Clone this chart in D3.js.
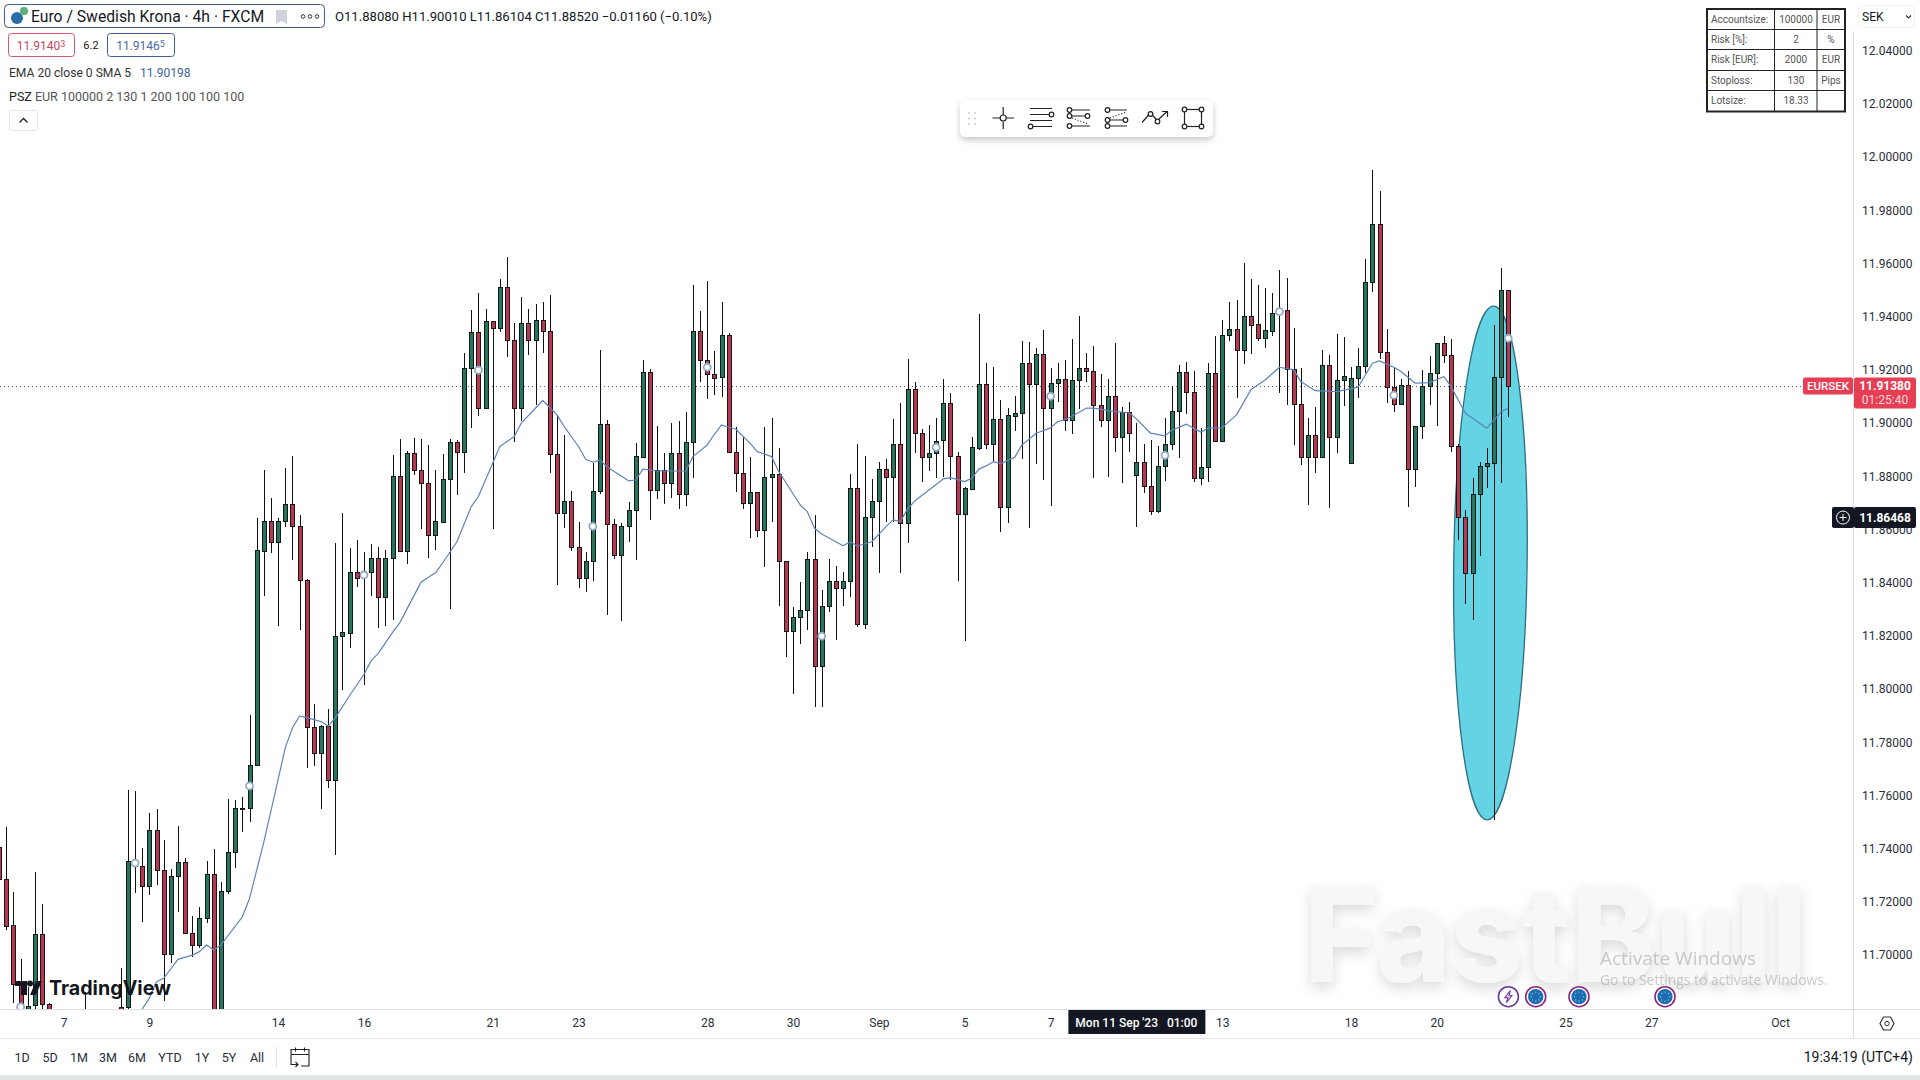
<!DOCTYPE html>
<html><head><meta charset="utf-8"><title>EURSEK 4h</title>
<script src="https://cdn.jsdelivr.net/npm/d3@7/dist/d3.min.js"></script>
<style>
html,body{margin:0;padding:0;background:#fff;overflow:hidden}
svg{display:block}
text{font-family:Roboto,sans-serif;fill:#131722}
</style></head><body><svg id="c" width="1920" height="1080"></svg>
<script>
const highs=[11.7452,11.7482,11.7238,11.6985,11.6880,11.7314,11.7192,11.6821,
11.6770,11.6700,11.6680,11.6670,11.6862,11.6750,11.6710,11.6720,11.6770,
11.6950,11.7621,11.7617,11.7402,11.7533,11.7548,11.7433,11.7323,11.7485,11.7364,11.7147,11.7182,11.7355,11.7399,11.7276,11.7587,11.7583,11.7594,11.7904,11.8644,11.8825,11.8720,11.8645,11.8832,11.8875,11.8655,11.8415,11.7943,11.7865,11.7925,11.8551,11.8662,11.8530,11.8559,11.8516,11.8544,11.8534,11.8523,11.8880,11.8941,11.8894,11.8944,11.8941,11.8918,11.8825,11.8884,11.8939,11.8937,11.9263,11.9426,11.9488,11.9429,11.9384,11.9541,11.9624,11.9376,11.9473,11.9428,11.9447,11.9455,11.9482,11.9031,11.8956,11.8745,11.8630,11.8515,11.8851,11.9275,11.9012,11.8639,11.8624,11.8703,11.8927,11.9238,11.9203,11.8989,11.8887,11.9001,11.9007,11.9041,11.9520,11.9421,11.9534,11.9271,11.9456,11.9340,11.8987,11.8947,11.8872,11.8741,11.8987,11.9018,11.8906,11.8483,11.8310,11.8402,11.8515,11.8655,11.8373,11.8488,11.8463,11.8439,11.8808,11.8921,11.8877,11.8790,11.8853,11.8864,11.9016,11.9075,11.9240,11.9155,11.8977,11.8993,11.9018,11.9166,11.9112,11.8891,11.8761,11.8947,11.9411,11.9227,11.9212,11.9085,11.9056,11.9102,11.9309,11.9304,11.9282,11.9350,11.9206,11.9227,11.9238,11.9317,11.9403,11.9263,11.9288,11.9184,11.9166,11.9303,11.9062,11.9081,11.9000,11.8921,11.8937,11.8914,11.9018,11.9141,11.9219,11.9231,11.9197,11.8981,11.9225,11.9328,11.9388,11.9455,11.9463,11.9602,11.9542,11.9520,11.9507,11.9490,11.9576,11.9547,11.9357,11.9206,11.9018,11.9060,11.9273,11.9256,11.9335,11.9323,11.9210,11.9282,11.9617,11.9952,11.9873,11.9353,11.9206,11.9166,11.9196,11.8989,11.9200,11.9253,11.9303,11.9328,11.9317,11.8922,11.8674,11.8793,11.8855,11.8906,11.9369,11.9582,11.9501];
const opens=[11.7406,11.7286,11.7113,11.6891,11.6718,11.6812,11.7078,11.6815,
11.6720,11.6650,11.6620,11.6600,11.6640,11.6700,11.6660,11.6650,11.6690,
11.6805,11.6804,11.7358,11.7334,11.7261,11.7469,11.7319,11.7003,11.7296,11.7349,11.7082,11.7037,11.7138,11.7304,11.6718,11.7240,11.7389,11.7549,11.7552,11.7713,11.8521,11.8631,11.8554,11.8631,11.8694,11.8612,11.8409,11.7857,11.7761,11.7861,11.7660,11.8198,11.8212,11.8439,11.8422,11.8439,11.8494,11.8346,11.8492,11.8803,11.8521,11.8887,11.8822,11.8775,11.8580,11.8630,11.8788,11.8928,11.8891,11.9206,11.9342,11.9056,11.9383,11.9357,11.9511,11.9312,11.9056,11.9376,11.9312,11.9387,11.9346,11.8883,11.8661,11.8706,11.8533,11.8417,11.8481,11.8744,11.8996,11.8620,11.8503,11.8612,11.8672,11.8874,11.9191,11.8748,11.8823,11.8774,11.8887,11.8733,11.8928,11.9346,11.9236,11.9184,11.9173,11.9330,11.8891,11.8812,11.8699,11.8740,11.8597,11.8797,11.8808,11.8481,11.8218,11.8270,11.8296,11.8488,11.8086,11.8312,11.8406,11.8381,11.8406,11.8755,11.8244,11.8646,11.8706,11.8827,11.8797,11.8921,11.8624,11.9127,11.8962,11.8872,11.8887,11.8936,11.9075,11.8876,11.8657,11.8753,11.8908,11.9146,11.8921,11.9015,11.8684,11.9028,11.9037,11.9225,11.9146,11.9259,11.9056,11.9150,11.9165,11.9011,11.9161,11.9206,11.9195,11.9067,11.9011,11.9101,11.8949,11.9041,11.8806,11.8853,11.8765,11.8671,11.8838,11.8921,11.9045,11.9191,11.9116,11.8793,11.8834,11.9188,11.8932,11.9330,11.9353,11.9273,11.9402,11.9372,11.9321,11.9348,11.9414,11.9426,11.9203,11.9073,11.8874,11.8954,11.8872,11.9218,11.8947,11.9161,11.8849,11.9169,11.9214,11.9530,11.9748,11.9267,11.9135,11.9071,11.9142,11.8827,11.8988,11.9139,11.9188,11.9300,11.9255,11.8913,11.8646,11.8436,11.8733,11.8838,11.8849,11.9173,11.9500];
const closes=[11.7286,11.7109,11.6890,11.6812,11.6810,11.7078,11.6816,11.6718,
11.6650,11.6620,11.6600,11.6640,11.6700,11.6660,11.6650,11.6690,11.6730,
11.6737,11.7353,11.7335,11.7261,11.7469,11.7319,11.7003,11.7296,11.7349,11.7082,11.7037,11.7138,11.7304,11.6718,11.7240,11.7389,11.7552,11.7553,11.7713,11.8523,11.8631,11.8554,11.8631,11.8694,11.8612,11.8409,11.7857,11.7761,11.7861,11.7660,11.8199,11.8213,11.8439,11.8416,11.8437,11.8494,11.8346,11.8491,11.8803,11.8521,11.8887,11.8822,11.8775,11.8580,11.8631,11.8789,11.8928,11.8891,11.9206,11.9342,11.9056,11.9383,11.9357,11.9511,11.9312,11.9056,11.9376,11.9312,11.9387,11.9346,11.8883,11.8661,11.8706,11.8533,11.8417,11.8481,11.8744,11.8996,11.8620,11.8503,11.8612,11.8672,11.8876,11.9191,11.8748,11.8823,11.8774,11.8887,11.8733,11.8928,11.9346,11.9236,11.9184,11.9171,11.9330,11.8891,11.8812,11.8699,11.8740,11.8597,11.8797,11.8808,11.8481,11.8218,11.8270,11.8296,11.8488,11.8086,11.8312,11.8406,11.8381,11.8406,11.8755,11.8244,11.8646,11.8706,11.8827,11.8797,11.8921,11.8624,11.9127,11.8962,11.8872,11.8887,11.8934,11.9075,11.8876,11.8657,11.8755,11.8909,11.9146,11.8921,11.9015,11.8684,11.9030,11.9037,11.9225,11.9146,11.9259,11.9056,11.9150,11.9165,11.9011,11.9161,11.9206,11.9195,11.9067,11.9011,11.9101,11.8949,11.9041,11.8964,11.8853,11.8765,11.8671,11.8838,11.8921,11.9045,11.9191,11.9116,11.8793,11.8834,11.9188,11.8932,11.9330,11.9353,11.9273,11.9402,11.9370,11.9321,11.9349,11.9413,11.9429,11.9203,11.9073,11.8874,11.8954,11.8872,11.9218,11.8947,11.9161,11.9176,11.9169,11.9214,11.9530,11.9748,11.9267,11.9135,11.9071,11.9142,11.8827,11.8988,11.9139,11.9188,11.9300,11.9255,11.8913,11.8646,11.8436,11.8733,11.8838,11.8849,11.9173,11.9500,11.9138];
const lows=[11.7207,11.7094,11.6821,11.6786,11.6681,11.6786,11.6786,11.6681,
11.6620,11.6590,11.6560,11.6570,11.6600,11.6630,11.6600,11.6610,11.6650,
11.6700,11.6786,11.7234,11.7126,11.7226,11.7264,11.6829,11.6971,11.7163,11.7079,11.6994,11.7026,11.7120,11.6662,11.6681,
11.7229,11.7326,11.7461,11.7501,11.7711,11.8350,11.8512,11.8238,11.8610,11.8487,11.8221,11.7705,11.7710,11.7549,11.7628,11.7376,11.7995,11.8156,11.8382,11.8016,11.8350,11.8228,11.8239,11.8261,11.8519,11.8472,11.8806,11.8602,11.8494,11.8523,11.8629,11.8300,11.8730,11.8812,11.8983,11.9028,11.9055,11.8601,11.9344,11.9248,11.8928,11.9009,11.9256,11.9068,11.9263,11.8812,11.8392,11.8607,11.8521,11.8381,11.8366,11.8408,11.8734,11.8279,11.8489,11.8256,11.8552,11.8486,11.8869,11.8636,11.8714,11.8696,11.8720,11.8677,11.8689,11.8793,11.9154,11.9092,11.9106,11.9098,11.8890,11.8742,11.8677,11.8569,11.8572,11.8460,11.8630,11.8314,11.8120,11.7982,11.8170,11.8222,11.7932,11.7934,11.8291,11.8185,11.8314,11.8345,11.8235,11.8225,11.8533,11.8436,11.8630,11.8630,11.8436,11.8548,11.8888,11.8780,11.8821,11.8793,11.8799,11.8786,11.8407,11.8182,11.8752,11.8897,11.8903,11.8855,11.8592,11.8626,11.8972,11.8865,11.8607,11.8847,11.8786,11.8689,11.9081,11.8972,11.8959,11.9053,11.9154,11.8793,11.8987,11.8797,11.8893,11.8774,11.8893,11.8611,11.8739,11.8656,11.8663,11.8784,11.8899,11.8870,11.9033,11.8778,11.8769,11.8780,11.8931,11.8931,11.9309,11.9094,11.9223,11.9259,11.9310,11.9284,11.9329,11.9112,11.9068,11.8918,11.8843,11.8692,11.8814,11.8871,11.8682,11.8889,11.9065,11.8848,11.9096,11.9188,11.9494,11.9242,11.9075,11.9043,11.9070,11.8686,11.8761,11.8939,11.9068,11.8989,11.9225,11.8893,11.8561,11.8320,11.8260,11.8502,11.8755,11.7508,11.8776,11.9022];

const emaBars=[20,21,22,23,25,27,28,29,30,31,34,35,37,38,40,41,42,43,45,46,47,49,51,52,53,55,56,59,61,62,64,66,67,69,70,72,73,76,78,79,81,82,83,84,85,88,89,90,92,96,97,99,100,101,103,105,106,108,109,112,113,114,115,118,119,120,122,124,125,126,127,128,132,133,135,136,137,138,139,140,142,143,145,147,148,149,152,153,156,158,159,161,163,164,166,168,169,171,173,175,177,179,181,182,184,187,190,192,193,195,196,198,200,202,203,205,208,210,211];
const emaValues=[11.6797,11.6838,11.6900,11.6913,11.6984,11.7000,11.7013,11.7038,11.7019,11.7038,11.7144,11.7213,11.7425,11.7542,11.7779,11.7854,11.7899,11.7893,11.7878,11.7861,11.7892,11.7976,11.8055,11.8106,11.8134,11.8213,11.8249,11.8403,11.8437,11.8474,11.8554,11.8686,11.8724,11.8849,11.8912,11.8949,11.9000,11.9085,11.9031,11.8987,11.8912,11.8864,11.8853,11.8862,11.8835,11.8783,11.8786,11.8827,11.8820,11.8820,11.8874,11.8918,11.8958,11.8993,11.8977,11.8924,11.8893,11.8874,11.8818,11.8692,11.8667,11.8605,11.8583,11.8539,11.8554,11.8538,11.8554,11.8611,11.8636,11.8630,11.8677,11.8707,11.8790,11.8795,11.8780,11.8793,11.8828,11.8839,11.8855,11.8847,11.8872,11.8918,11.8962,11.8982,11.9006,11.9012,11.9056,11.9056,11.9043,11.9039,11.9016,11.8962,11.8952,11.8974,11.8996,11.8966,11.8981,11.8983,11.9031,11.9125,11.9162,11.9210,11.9200,11.9156,11.9122,11.9118,11.9135,11.9225,11.9234,11.9210,11.9194,11.9150,11.9152,11.9175,11.9137,11.9037,11.8981,11.9043,11.9056];

const markerBars=[3,19,35,51,67,83,99,115,131,147,163,179,195,211];
const markerPrices=[11.6805,11.7346,11.7636,11.8429,11.9199,11.8612,11.9210,11.8199,11.8909,11.9101,11.8879,11.9419,11.9105,11.9319];

const priceTicks=[11.70,11.72,11.74,11.76,11.78,11.80,11.82,11.84,11.86,11.88,11.90,11.92,11.94,11.96,11.98,12.00,12.02,12.04];
const timeBars=[9,21,39,51,69,81,99,111,123,135,147,171,189,201,219,231,249];
const timeLabels=["7","9","14","16","21","23","28","30","Sep","5","7","13","18","20","25","27","Oct"];
const crosshairBar=159, crosshairLabel="Mon 11 Sep '23   01:00";
const crosshairPrice=11.86468, lastPrice=11.9138;

const ellipseBar=208.5, ellipsePrice=11.8474, ellipseBarRadius=5.13, ellipsePriceRadius=0.0966;

const rangeButtons=["1D","5D","1M","3M","6M","YTD","1Y","5Y","All"];
const rangeX=[22,50,79,108,137,170,202,229,257];
const tableRows=[["Accountsize:","100000","EUR"],["Risk [%]:","2","%"],["Risk [EUR]:","2000","EUR"],["Stoploss:","130","Pips"],["Lotsize:","18.33",""]];

const svg=d3.select("#c");
const x=d3.scaleLinear().domain([0,211]).range([-0.82,1508.3]);
const y=d3.scaleLinear().domain([11.70,12.04]).range([955.1,50.7]);
const RED="#b5394f",GREEN="#27745f",DARK="#161616";

const defs=svg.append("defs");
defs.append("clipPath").attr("id","plot").append("rect").attr("x",0).attr("y",0).attr("width",1853).attr("height",1009);
const ds=defs.append("filter").attr("id","shadow").attr("x","-20%").attr("y","-40%").attr("width","140%").attr("height","200%");
ds.append("feDropShadow").attr("dx",0).attr("dy",3).attr("stdDeviation",3).attr("flood-color","#000").attr("flood-opacity",.22);
const wm=defs.append("filter").attr("id","wm").attr("x","-10%").attr("y","-20%").attr("width","120%").attr("height","150%");
wm.append("feDropShadow").attr("dx",0).attr("dy",6).attr("stdDeviation",7).attr("flood-color","#000").attr("flood-opacity",.14);

// watermark sits under the series
svg.append("text").attr("x",1304).attr("y",982).attr("font-size",132).attr("font-weight",800).attr("textLength",503).attr("lengthAdjust","spacingAndGlyphs")
  .style("font-family","Inter,Roboto,sans-serif").style("fill","#f7f7f7").attr("filter","url(#wm)").text("FastBull");

const plot=svg.append("g").attr("clip-path","url(#plot)");
// last price line
plot.append("line").attr("x1",0).attr("x2",1803).attr("y1",Math.round(y(lastPrice))+.5).attr("y2",Math.round(y(lastPrice))+.5)
  .attr("stroke","#6e4a52").attr("stroke-width",1).attr("stroke-dasharray","1 3");
// ellipse drawing
plot.append("ellipse")
  .attr("cx",x(ellipseBar)).attr("cy",y(ellipsePrice))
  .attr("rx",x(ellipseBar+ellipseBarRadius)-x(ellipseBar))
  .attr("ry",y(ellipsePrice-ellipsePriceRadius)-y(ellipsePrice))
  .attr("transform",`rotate(0.72 ${x(ellipseBar)} ${y(ellipsePrice)})`)
  .attr("fill","#64d3e4").attr("stroke","#2c6e80").attr("stroke-width",1.3);

// candles
const bars=d3.range(opens.length);
const g=plot.append("g").selectAll("g").data(bars).join("g").attr("shape-rendering","crispEdges");
g.append("line").attr("x1",i=>Math.round(x(i))+.5).attr("x2",i=>Math.round(x(i))+.5)
  .attr("y1",i=>y(highs[i])).attr("y2",i=>y(lows[i])).attr("stroke","#111").attr("stroke-width",1);
g.append("rect").attr("x",i=>Math.round(x(i))-1.5).attr("width",4)
  .attr("y",i=>Math.round(y(Math.max(opens[i],closes[i])))+.5)
  .attr("height",i=>Math.max(1,Math.round(y(Math.min(opens[i],closes[i])))-Math.round(y(Math.max(opens[i],closes[i])))))
  .attr("fill",i=>closes[i]>=opens[i]?GREEN:RED).attr("stroke",DARK).attr("stroke-width",1);

// EMA
const ema=d3.line().x((d,i)=>x(emaBars[i])).y(d=>y(d));
plot.append("path").attr("d",ema(emaValues)).attr("fill","none").attr("stroke","#5f84b8").attr("stroke-width",1.2).attr("stroke-linejoin","round");

// cycle markers
plot.append("g").selectAll("circle").data(markerBars).join("circle")
  .attr("cx",d=>x(d)).attr("cy",(d,i)=>y(markerPrices[i])).attr("r",3.5)
  .attr("fill","#fff").attr("stroke","#92a9c6").attr("stroke-width",1.8);

// TradingView logo
const tv=svg.append("g");
tv.append("path").attr("d","M15 981h12v14h-6v-9h-6z").attr("fill","#131722");
tv.append("circle").attr("cx",30).attr("cy",983.5).attr("r",3).attr("fill","#131722");
tv.append("path").attr("d","M36 981h6l-6 14h-6z").attr("fill","#131722");
tv.append("text").attr("x",49).attr("y",995).attr("font-size",19.7).attr("font-weight",700).style("font-family","Inter,Roboto,sans-serif").text("TradingView");

// events
function evt(cx){const e=svg.append("g").attr("transform",`translate(${cx},996.7)`);
 e.append("circle").attr("r",10).attr("fill","#fff").attr("stroke","#8a2a7e").attr("stroke-width",1.6);
 e.append("circle").attr("r",7.6).attr("fill","#1b6cb3");
 d3.range(8).forEach(k=>e.append("circle").attr("cx",4.6*Math.cos(k*Math.PI/4)).attr("cy",4.6*Math.sin(k*Math.PI/4)).attr("r",.7).attr("fill","#9cc7ea"));}
[1535.7,1579,1665].forEach(evt);
const bolt=svg.append("g").attr("transform","translate(1508.4,996.7)");
bolt.append("circle").attr("r",10).attr("fill","#fff").attr("stroke","#6b3a93").attr("stroke-width",1.6);
bolt.append("path").attr("d","M2-6L-3.5 1H-.5L-2 6L3.5-1H.5z").attr("fill","none").attr("stroke","#7a3fa0").attr("stroke-width",1.2);

// activate notice
svg.append("text").attr("x",1600).attr("y",965).attr("font-size",19).style("font-family","'Open Sans',sans-serif").style("fill","#9a9a9a").attr("opacity",.5).text("Activate Windows");
svg.append("text").attr("x",1600).attr("y",985).attr("font-size",13.9).style("font-family","'Open Sans',sans-serif").style("fill","#9a9a9a").attr("opacity",.5).text("Go to Settings to activate Windows.");

// axes lines
svg.append("rect").attr("x",1854).attr("y",0).attr("width",66).attr("height",1038).attr("fill","#fff");
svg.append("line").attr("x1",1853.5).attr("x2",1853.5).attr("y1",31).attr("y2",1038).attr("stroke","#dcdee5");
svg.append("line").attr("x1",0).attr("x2",1920).attr("y1",1009.5).attr("y2",1009.5).attr("stroke","#dcdee5");
svg.append("line").attr("x1",0).attr("x2",1920).attr("y1",1038.5).attr("y2",1038.5).attr("stroke","#e3e5ea");

// price axis
const py=svg.append("g").attr("transform","translate(1853,0)").call(d3.axisRight(y).tickValues(priceTicks).tickFormat(d3.format(".5f")).tickSize(0).tickPadding(9));
py.select(".domain").remove();
py.selectAll("text").attr("font-size",12).style("font-family","Roboto,sans-serif").style("fill","#2a2e39");

// time axis
const tx=svg.append("g").attr("transform","translate(0,1010)").call(d3.axisBottom(x).tickValues(timeBars).tickFormat((d,i)=>timeLabels[i]).tickSize(0).tickPadding(8));
tx.select(".domain").remove();
tx.selectAll("text").attr("font-size",12).style("font-family","Roboto,sans-serif").style("fill","#2a2e39");

// time crosshair badge
svg.append("rect").attr("x",x(crosshairBar)-68).attr("y",1010).attr("width",137).attr("height",24).attr("fill","#131722");
svg.append("text").attr("x",x(crosshairBar)).attr("y",1027).attr("text-anchor","middle").attr("font-size",12).attr("font-weight",500).style("fill","#fff").style("white-space","pre").text(crosshairLabel);

// last price badges
const ly=y(lastPrice);
svg.append("rect").attr("x",1803).attr("y",ly-9).attr("width",50).attr("height",17).attr("rx",2).attr("fill","#e63e55");
svg.append("text").attr("x",1828).attr("y",ly+4).attr("text-anchor","middle").attr("font-size",11.5).attr("font-weight",500).style("fill","#fff").text("EURSEK");
svg.append("rect").attr("x",1854).attr("y",ly-9).attr("width",62).attr("height",31).attr("rx",2).attr("fill","#e63e55");
svg.append("text").attr("x",1885).attr("y",ly+4).attr("text-anchor","middle").attr("font-size",12).attr("font-weight",700).style("fill","#fff").text(d3.format(".5f")(lastPrice));
svg.append("text").attr("x",1885).attr("y",ly+18).attr("text-anchor","middle").attr("font-size",12).style("fill","#fbd9de").text("01:25:40");

// crosshair price badge
const cy=y(crosshairPrice);
svg.append("rect").attr("x",1832).attr("y",cy-10).attr("width",22).attr("height",21).attr("rx",2).attr("fill","#131722");
svg.append("circle").attr("cx",1843).attr("cy",cy+.5).attr("r",6.5).attr("fill","none").attr("stroke","#fff").attr("stroke-width",1);
svg.append("path").attr("d",`M1839.5 ${cy+.5}h7M1843 ${cy-3}v7`).attr("stroke","#fff").attr("fill","none");
svg.append("rect").attr("x",1854).attr("y",cy-10).attr("width",62).attr("height",21).attr("rx",2).attr("fill","#131722");
svg.append("text").attr("x",1885).attr("y",cy+5).attr("text-anchor","middle").attr("font-size",12).attr("font-weight",700).style("fill","#fff").text(d3.format(".5f")(crosshairPrice));

// settings hexagon
const st=svg.append("g").attr("transform","translate(1887,1023.5)");
st.append("path").attr("d","M-3.5-6.5H3.5L7 0L3.5 6.5H-3.5L-7 0Z").attr("fill","none").attr("stroke","#333").attr("stroke-width",1.2);
st.append("circle").attr("r",2.2).attr("fill","none").attr("stroke","#333");

// bottom toolbar
svg.append("rect").attr("x",0).attr("y",1075).attr("width",1920).attr("height",5).attr("fill","#e1e6e9");
svg.append("g").selectAll("text").data(rangeButtons).join("text").attr("x",(d,i)=>rangeX[i]).attr("y",1061.5).attr("text-anchor","middle").attr("font-size",12.5).style("fill","#2a2e39").text(d=>d);
svg.append("line").attr("x1",276.5).attr("x2",276.5).attr("y1",1047).attr("y2",1068).attr("stroke","#e0e3eb");
const cal=svg.append("g").attr("fill","none").attr("stroke","#222").attr("stroke-width",1.1);
cal.append("path").attr("d","M291 1065V1049.5H309V1066H301M291 1054.5H309M295.5 1047.5v4M304.5 1047.5v4");
cal.append("path").attr("d","M291 1064.5H298M295.5 1062L298 1064.5L295.5 1067");
svg.append("text").attr("x",1913).attr("y",1061.5).attr("text-anchor","end").attr("font-size",14).style("fill","#131722").text("19:34:19 (UTC+4)");

// header
svg.append("rect").attr("x",4.5).attr("y",4.5).attr("width",320).attr("height",23).attr("rx",4).attr("fill","#fff").attr("stroke","#3e5b8f");
svg.append("circle").attr("cx",17).attr("cy",18).attr("r",6).attr("fill","#2a6ea8");
svg.append("circle").attr("cx",24).attr("cy",11).attr("r",4).attr("fill","#5cae7a");
svg.append("text").attr("x",31).attr("y",22).attr("font-size",15.7).text("Euro / Swedish Krona · 4h · FXCM");
svg.append("path").attr("d","M276 10H287V24L281.5 21L276 24Z").attr("fill","#cfd2da");
[303,310,317].forEach(c=>svg.append("circle").attr("cx",c).attr("cy",16.5).attr("r",1.8).attr("fill","none").attr("stroke","#333").attr("stroke-width",1));
svg.append("text").attr("x",335).attr("y",21).attr("font-size",13.1).text("O11.88080  H11.90010  L11.86104  C11.88520  −0.01160 (−0.10%)");

function box(x0,w,col,txt,sup,tc){
 svg.append("rect").attr("x",x0+.5).attr("y",33.5).attr("width",w).attr("height",23).attr("rx",3).attr("fill","#fff").attr("stroke",col);
 const t=svg.append("text").attr("x",x0+w/2).attr("y",49.5).attr("text-anchor","middle").attr("font-size",12).style("fill",tc);
 t.append("tspan").text(txt);t.append("tspan").attr("font-size",9).attr("dy",-3).text(sup);}
box(8,66,"#d0596c","11.9140","3","#c24a5e");
box(107,67,"#3e5f9e","11.9146","5","#4e6cab");
svg.append("text").attr("x",91).attr("y",49).attr("text-anchor","middle").attr("font-size",11).text("6.2");

const el=svg.append("text").attr("x",9).attr("y",77).attr("font-size",12.1);
el.append("tspan").style("fill","#333").text("EMA 20 close 0 SMA 5");
svg.append("text").attr("x",140).attr("y",77).attr("font-size",12).style("fill","#3e5f9e").text("11.90198");
const pl=svg.append("text").attr("x",9).attr("y",101).attr("font-size",12.5);
pl.append("tspan").style("fill","#222").text("PSZ ");
pl.append("tspan").style("fill","#555").text("EUR 100000 2 130 1 200 100 100 100");
svg.append("rect").attr("x",9.5).attr("y",110.5).attr("width",28).attr("height",20).attr("rx",2).attr("fill","#fff").attr("stroke","#e3e5ea");
svg.append("path").attr("d","M19.5 122.5L23.5 118.5L27.5 122.5").attr("fill","none").attr("stroke","#222").attr("stroke-width",1.4);

// floating drawing toolbar
const fb=svg.append("g");
fb.append("rect").attr("x",960).attr("y",100).attr("width",253).attr("height",37).attr("rx",6).attr("fill","#fff").attr("filter","url(#shadow)");
[0,1].forEach(c=>[0,1,2].forEach(r=>fb.append("circle").attr("cx",969+c*6).attr("cy",113+r*5.5).attr("r",.9).attr("fill","#c3c6ce")));
const ic=fb.append("g").attr("fill","none").attr("stroke","#222").attr("stroke-width",1.2);
ic.append("path").attr("d","M992.5 118H1000M1006.5 118H1014M1003.2 107V115M1003.2 121.5V129");
ic.append("circle").attr("cx",1003.2).attr("cy",118).attr("r",3);
ic.append("path").attr("d","M1030 108.5H1052M1030 114.5H1049M1030 120.5H1052M1033 126.5H1052");
ic.append("circle").attr("cx",1051.5).attr("cy",114.5).attr("r",2.3);ic.append("circle").attr("cx",1030.5).attr("cy",126.5).attr("r",2.3);
ic.append("path").attr("d","M1072 110H1090M1072 116H1085M1072 126H1090");
ic.append("path").attr("d","M1072 118L1088 124").attr("stroke-dasharray","1 2");
[[1069.5,110],[1069.5,116],[1087.5,116],[1069.5,126]].forEach(p=>ic.append("circle").attr("cx",p[0]).attr("cy",p[1]).attr("r",2.3));
ic.append("path").attr("d","M1110 110H1127M1110 120H1124M1110 126H1127");
ic.append("path").attr("d","M1110 118L1126 112").attr("stroke-dasharray","1 2");
[[1107.5,110],[1107.5,120],[1125.5,120],[1107.5,126]].forEach(p=>ic.append("circle").attr("cx",p[0]).attr("cy",p[1]).attr("r",2.3));
ic.append("path").attr("d","M1142 122.5L1149 114.5M1152 114.5L1156.5 120M1159 119L1167 111.5M1162 111.5H1167.5V117");
ic.append("circle").attr("cx",1150.5).attr("cy",114).attr("r",2.3);ic.append("circle").attr("cx",1157.5).attr("cy",121.5).attr("r",2.3);
ic.append("rect").attr("x",1184.5).attr("y",109.5).attr("width",17).attr("height",17);
[[1184.5,109.5],[1201.5,109.5],[1184.5,126.5],[1201.5,126.5]].forEach(p=>ic.append("circle").attr("cx",p[0]).attr("cy",p[1]).attr("r",2.3).attr("fill","#fff"));

// SEK selector
svg.append("rect").attr("x",1858.5).attr("y",5.5).attr("width",56).attr("height",22).attr("rx",3).attr("fill","#fff").attr("stroke","#eef0f3");
svg.append("text").attr("x",1862).attr("y",21).attr("font-size",12).text("SEK");
svg.append("path").attr("d","M1906 15.5L1908.5 18L1911 15.5").attr("fill","none").attr("stroke","#333").attr("stroke-width",1.2);

// position size table
const tb=svg.append("g");
const tableTop=9, rowH=20.2;
tb.append("rect").attr("x",1707).attr("y",tableTop).attr("width",138).attr("height",rowH*5+1.5).attr("fill","#fff").attr("stroke","#222").attr("stroke-width",2);
[1774.5,1817].forEach(v=>tb.append("line").attr("x1",v).attr("x2",v).attr("y1",tableTop).attr("y2",tableTop+rowH*5+1.5).attr("stroke","#222"));
[1,2,3,4].forEach(r=>tb.append("line").attr("x1",1707).attr("x2",1845).attr("y1",Math.round(tableTop+rowH*r)+.5).attr("y2",Math.round(tableTop+rowH*r)+.5).attr("stroke","#222"));
tableRows.forEach((row,r)=>{
 const ty=tableTop+rowH*r+14;
 tb.append("text").attr("x",1711).attr("y",ty).attr("font-size",10).style("fill","#555").text(row[0]);
 tb.append("text").attr("x",1796).attr("y",ty).attr("text-anchor","middle").attr("font-size",10).style("fill","#555").text(row[1]);
 tb.append("text").attr("x",1831).attr("y",ty).attr("text-anchor","middle").attr("font-size",10).style("fill","#555").text(row[2]);
});
</script></body></html>
